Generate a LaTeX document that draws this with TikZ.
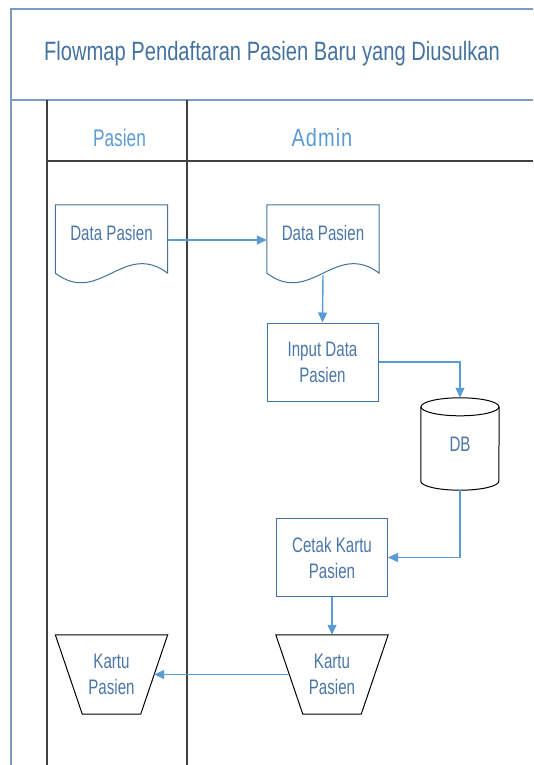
\documentclass[tikz,border=0pt]{standalone}
\usepackage{fontspec}
\setmainfont{Liberation Sans}[FakeStretch=0.72]
\newfontfamily\titlefont{Liberation Sans}[FakeStretch=0.76]
\newfontfamily\spacedfont{Liberation Sans}[FakeStretch=0.8,LetterSpace=4]
\usepackage{tikz}
\usetikzlibrary{arrows.meta, positioning, calc}

\definecolor{titleblue}{HTML}{44729E}
\definecolor{shapeblue}{HTML}{41719C}
\definecolor{textblue}{HTML}{4A76A8}
\definecolor{flowblue}{HTML}{5B9BD5}
\definecolor{frameblue}{HTML}{7C9CC0}

\tikzset{
  shape text/.style={text=textblue, font=\fontsize{21}{26}\selectfont, align=center},
  doc node/.style={shape text, minimum width=112pt, minimum height=70pt, text height=15pt, text depth=15pt},
  doc line/.style={draw=shapeblue, line width=1pt},
  process box/.style={shape text, draw=shapeblue, line width=1pt, shape=rectangle, minimum width=111pt, minimum height=78pt},
  card node/.style={shape text, minimum width=112pt, minimum height=79pt},
  store node/.style={shape text, minimum width=78pt, minimum height=92pt},
  black line/.style={draw=black, line width=1pt},
  flow/.style={draw=flowblue, line width=1.4pt, -{Triangle[width=9pt,length=10pt]}},
  lane line/.style={draw=black!75, line width=1.4pt},
  frame line/.style={draw=frameblue, line width=1.2pt}
}

\begin{document}
\begin{tikzpicture}[x=1pt, y=-1pt]
        \useasboundingbox (0,0) rectangle (533,765);

        % frame and swimlanes
        \draw [frame line] (533,9) -- (11,9) -- (11,765);
        \draw [frame line] (11,100) -- (533,100);
        \foreach \x in {47,187}
        \draw [lane line] (\x,100) -- (\x,765);
        \draw [lane line] (47,161) -- (533,161);

        \node [text=titleblue, font=\titlefont\fontsize{26.5}{30}\selectfont] (title) at (272,54) {Flowmap Pendaftaran Pasien Baru yang Diusulkan};
        \node [text=flowblue, font=\fontsize{24}{28}\selectfont] (lane-pasien) at (119.5,138) {Pasien};
        \node [text=flowblue, font=\spacedfont\fontsize{25}{28}\selectfont] (lane-admin) at (322,138) {Admin};

        % documents
        \foreach \n/\x in {1/111.5,2/323}
        {
        \node [doc node] (data-\n) at (\x,240) {Data Pasien};
        \draw [doc line] ($(data-\n.south west)+(0,-2)$) -- (data-\n.north west) -- (data-\n.north east)
          -- ($(data-\n.south east)+(0,-2)$) .. controls +(-44,-33) and +(44,33) .. ($(data-\n.south west)+(0,-2)$);
        }

        \node [process box] (input) at (322.5,362) {Input Data\\Pasien};

        % database
        \node [store node] (db) at (460,444) {DB};
        \draw [black line] ($(db.north west)+(0,9)$) -- ($(db.south west)+(0,-9)$)
          arc [start angle=180, end angle=360, x radius=39pt, y radius=9pt] -- ($(db.north east)+(0,9)$);
        \draw [black line] ($(db.north)+(0,9)$) ellipse [x radius=39pt, y radius=9pt];

        \node [process box] (cetak) at (332,557.5) {Cetak Kartu\\Pasien};

        % cards
        \foreach \n/\x in {1/111.5,2/332}
        {
        \node [card node] (kartu-\n) at (\x,674.5) {Kartu\\Pasien};
        \draw [black line] (kartu-\n.north west) -- (kartu-\n.north east) -- ($(kartu-\n.south east)+(-27,0)$)
          -- ($(kartu-\n.south west)+(27,0)$) -- cycle;
        \coordinate (kartu-\n-left) at ($(kartu-\n.west)+(13.5,0)$);
        \coordinate (kartu-\n-right) at ($(kartu-\n.east)+(-13.5,0)$);
        }

        % flows
        \draw [flow] (data-1.east) -- (data-2.west);
        \draw [flow] (data-2.south) -- (input.north);
        \draw [flow] (input.east) -| (db.north);
        \draw [flow] (db.south) |- (cetak.east);
        \draw [flow] (cetak.south) -- (kartu-2.north);
        \draw [flow] (kartu-2-left) -- (kartu-1-right);

      \end{tikzpicture}
\end{document}
